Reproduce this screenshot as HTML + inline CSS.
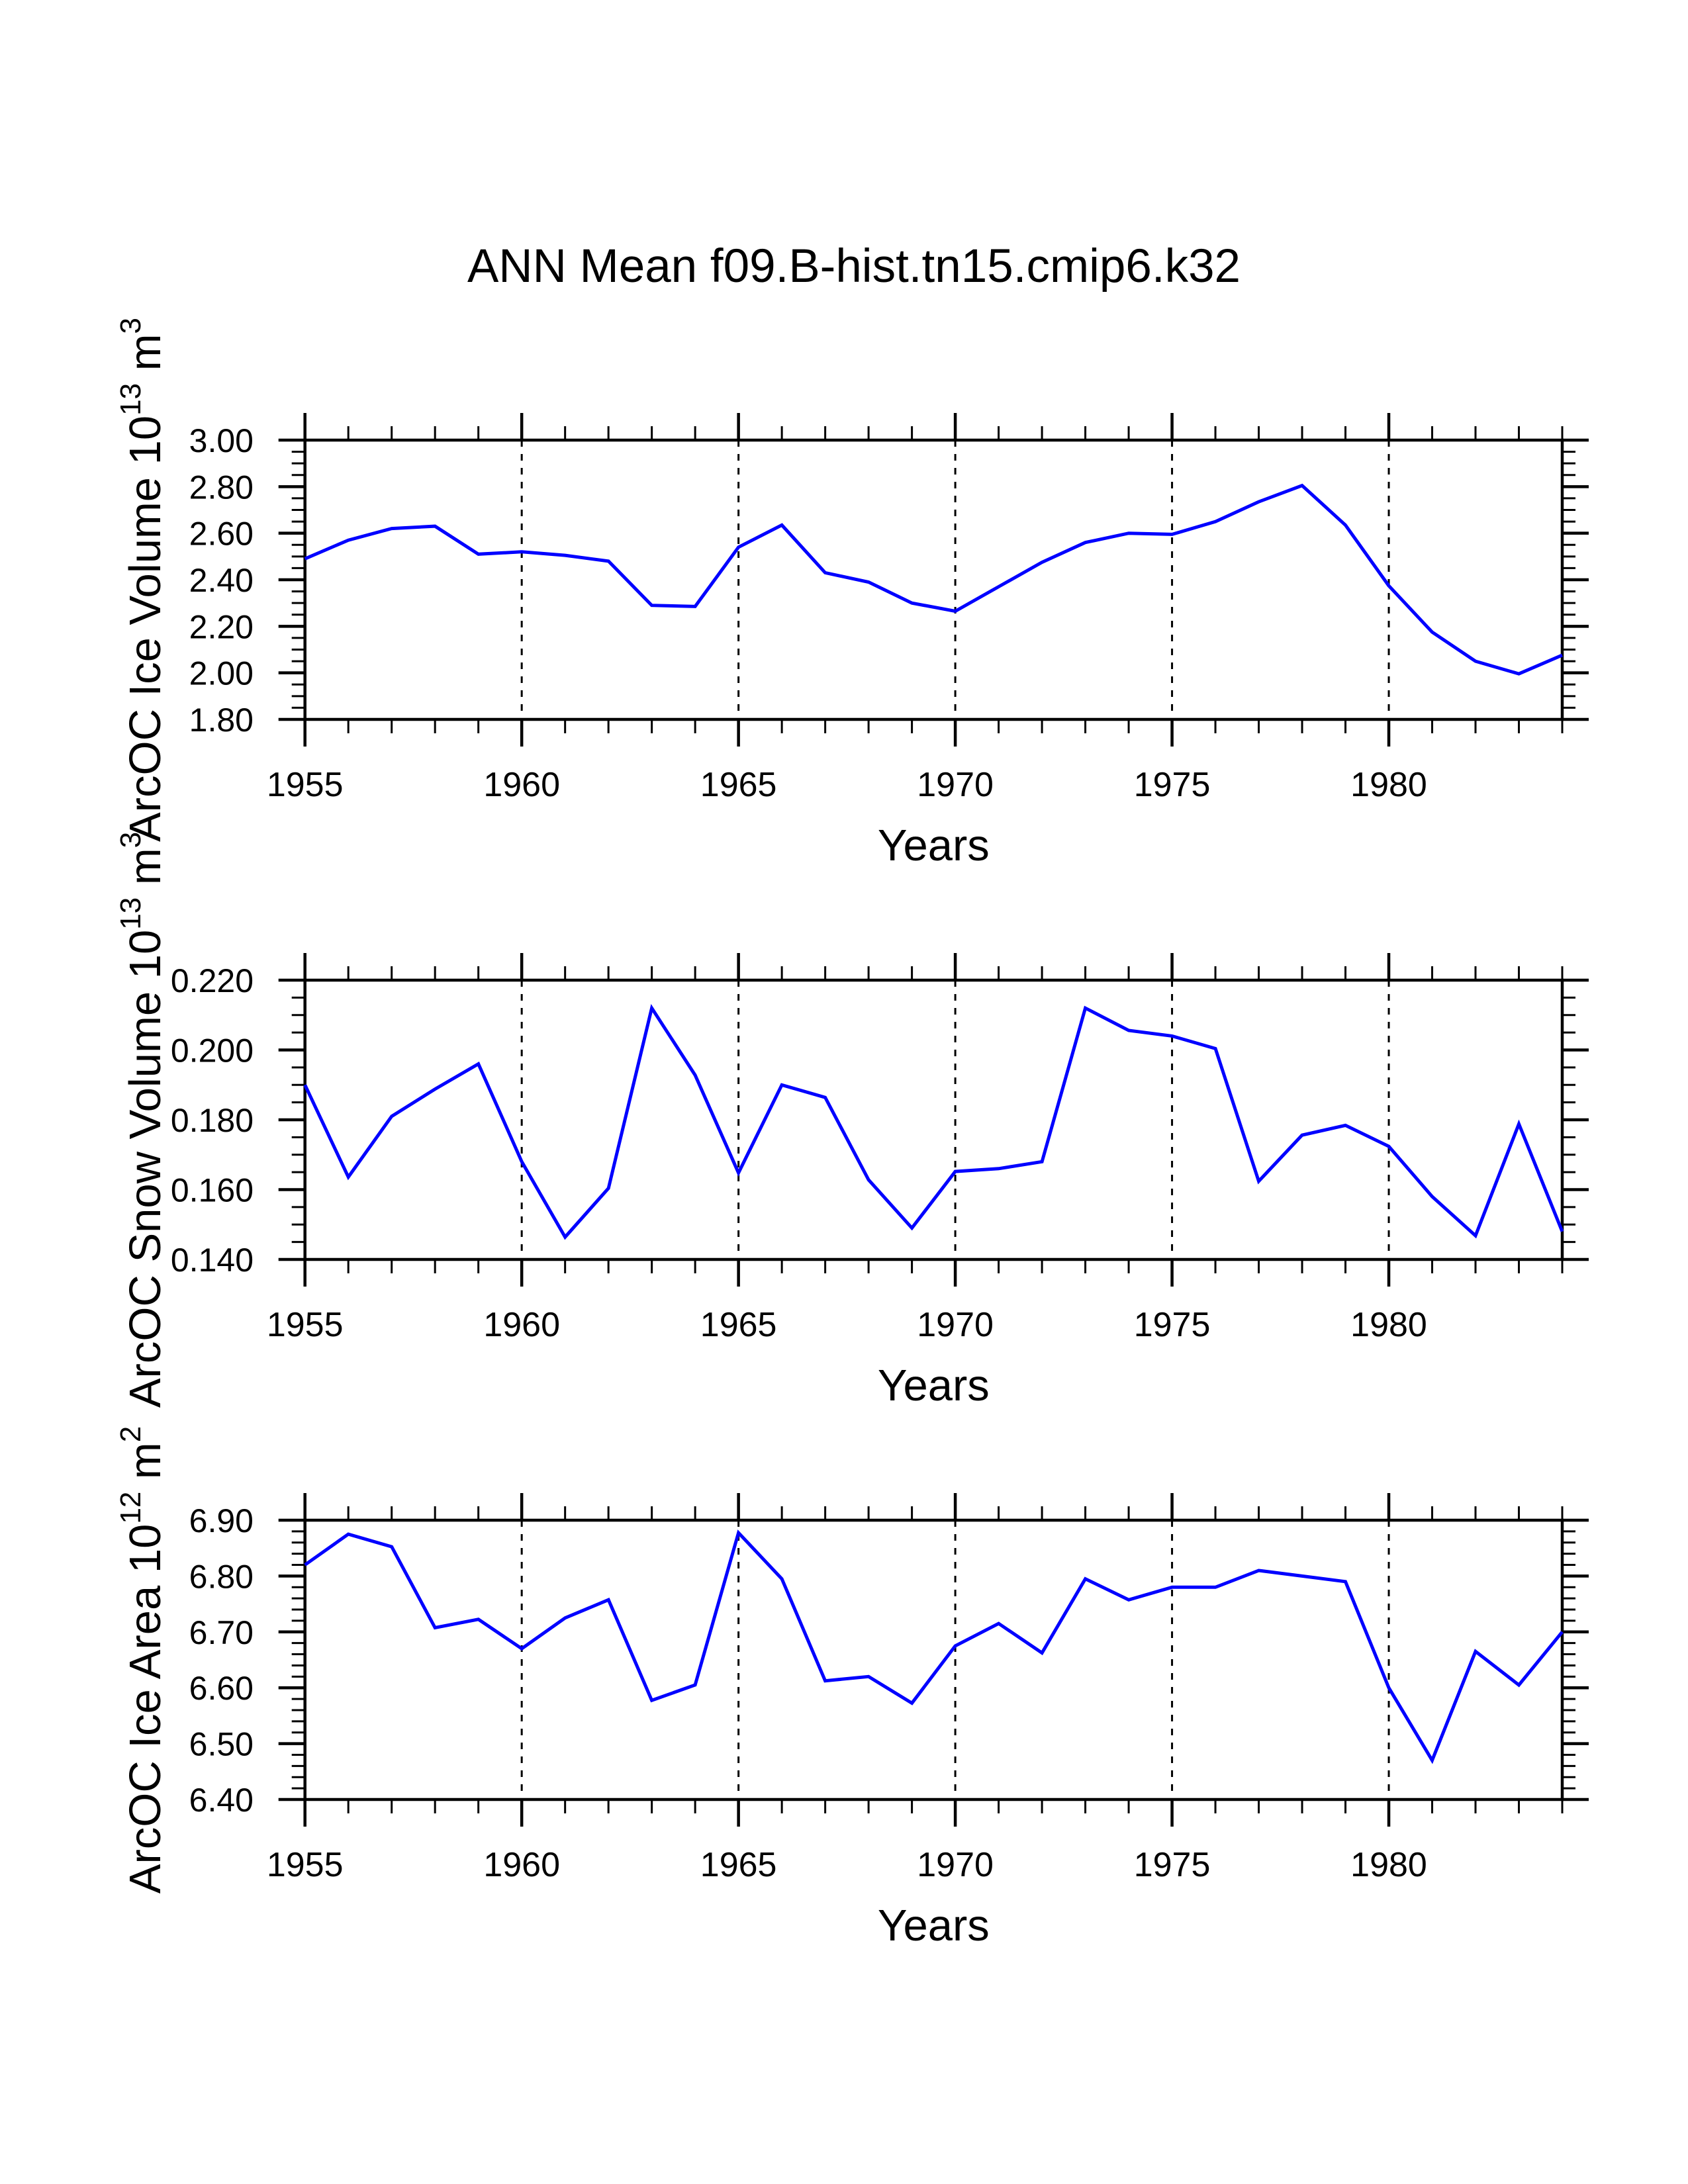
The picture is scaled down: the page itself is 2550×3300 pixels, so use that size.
<!DOCTYPE html>
<html><head><meta charset="utf-8"><style>
html,body{margin:0;padding:0;background:#fff;}
svg{display:block;}
text{font-family:"Liberation Sans",Arial,sans-serif;fill:#000;}
</style></head>
<body>
<svg id="chart" xmlns="http://www.w3.org/2000/svg" width="2550" height="3300" viewBox="0 0 2550 3300">
<rect width="2550" height="3300" fill="#fff"/>
<text x="1290" y="426" font-size="71" text-anchor="middle">ANN Mean f09.B-hist.tn15.cmip6.k32</text>
<g id="panels"></g>
</svg>
<script>
const years = [];
for (let y = 1955; y <= 1984; y++) years.push(y);
const xTickYears = [1955, 1960, 1965, 1970, 1975, 1980];

const iceVolume = [2.49,2.57,2.62,2.63,2.51,2.52,2.505,2.48,2.29,2.285,2.54,2.635,2.43,2.39,2.30,2.265,2.37,2.475,2.56,2.60,2.595,2.65,2.735,2.805,2.635,2.374,2.175,2.05,1.996,2.076];
const iceVolumeTicks = ["1.80","2.00","2.20","2.40","2.60","2.80","3.00"];

const snowVolume = [0.190,0.1636,0.181,0.1888,0.196,0.168,0.1464,0.1604,0.212,0.1928,0.1648,0.190,0.1864,0.1628,0.149,0.1652,0.166,0.168,0.212,0.2056,0.204,0.2004,0.1624,0.1756,0.1784,0.1724,0.158,0.1468,0.1788,0.148];
const snowVolumeTicks = ["0.140","0.160","0.180","0.200","0.220"];

const iceArea = [6.82,6.875,6.8525,6.7075,6.7225,6.67,6.725,6.7575,6.5775,6.605,6.8775,6.795,6.6125,6.62,6.5725,6.675,6.715,6.6625,6.795,6.7575,6.78,6.78,6.81,6.80,6.79,6.60,6.47,6.665,6.605,6.70];
const iceAreaTicks = ["6.40","6.50","6.60","6.70","6.80","6.90"];

const NS = "http://www.w3.org/2000/svg";
const X0 = 460.7, X1 = 2360;
const xScale = yr => X0 + (yr - 1955) / (1984 - 1955) * (X1 - X0);

function mk(tag, attrs, parent) {
  const e = document.createElementNS(NS, tag);
  for (const k in attrs) e.setAttribute(k, attrs[k]);
  parent.appendChild(e);
  return e;
}

const panels = [
  {top: 665, bottom: 1087, data: iceVolume, ticks: iceVolumeTicks, minorDiv: 4, name: "ice-volume",
   label: ["ArcOC Ice Volume 10", "13", " m", "3"]},
  {top: 1481, bottom: 1903, data: snowVolume, ticks: snowVolumeTicks, minorDiv: 4, name: "snow-volume",
   label: ["ArcOC Snow Volume 10", "13", " m", "3"]},
  {top: 2297, bottom: 2719, data: iceArea, ticks: iceAreaTicks, minorDiv: 5, name: "ice-area",
   label: ["ArcOC Ice Area 10", "12", " m", "2"]}
];

const root = document.getElementById("panels");
panels.forEach(p => {
  const g = mk("g", {}, root);
  
  
  const vmin = parseFloat(p.ticks[0]), vmax = parseFloat(p.ticks[p.ticks.length - 1]);
  const yScale = v => p.bottom - (v - vmin) / (vmax - vmin) * (p.bottom - p.top);

  xTickYears.slice(1).forEach(yr => {
    const l = mk("line", {x1: xScale(yr), x2: xScale(yr), y1: p.top, y2: p.bottom, stroke: "#000", "stroke-width": 3, "stroke-dasharray": "10 11"}, g);
    
    
  });

  years.forEach(yr => {
    const major = xTickYears.includes(yr);
    const len = major ? 41 : 21, w = major ? 4.5 : 3;
    const x = xScale(yr);
    const t1 = mk("line", {x1: x, x2: x, y1: p.top, y2: p.top - len, stroke: "#000", "stroke-width": w}, g);
    
    
    const t2 = mk("line", {x1: x, x2: x, y1: p.bottom, y2: p.bottom + len, stroke: "#000", "stroke-width": w}, g);
    
    
    if (major) {
      const t = mk("text", {x: x, y: p.bottom + 116, "font-size": 52, "text-anchor": "middle"}, g);
      t.textContent = yr;
      
      
    }
  });

  const nMaj = p.ticks.length - 1;
  const step = (vmax - vmin) / nMaj;
  for (let i = 0; i <= nMaj * p.minorDiv; i++) {
    const v = vmin + i * step / p.minorDiv;
    const y = yScale(v);
    const major = i % p.minorDiv === 0;
    const len = major ? 40 : 20, w = major ? 4.5 : 3;
    const a = mk("line", {x1: X0, x2: X0 - len, y1: y, y2: y, stroke: "#000", "stroke-width": w}, g);
    
    
    const b = mk("line", {x1: X1, x2: X1 + len, y1: y, y2: y, stroke: "#000", "stroke-width": w}, g);
    
    
    if (major) {
      const t = mk("text", {x: 383, y: y + 18, "font-size": 50, "text-anchor": "end"}, g);
      t.textContent = p.ticks[i / p.minorDiv];
      
      
    }
  }

  const fr = mk("rect", {x: X0, y: p.top, width: X1 - X0, height: p.bottom - p.top, fill: "none", stroke: "#000", "stroke-width": 4.5}, g);
  
  

  const pts = p.data.map((v, i) => xScale(years[i]).toFixed(1) + "," + yScale(v).toFixed(1)).join(" ");
  const pl = mk("polyline", {points: pts, fill: "none", stroke: "#0000ff", "stroke-width": 5, "stroke-linejoin": "miter"}, g);
  
  

  const xt = mk("text", {x: (X0 + X1) / 2, y: p.bottom + 213, "font-size": 67, "text-anchor": "middle"}, g);
  xt.textContent = "Years";
  
  

  const cy = (p.top + p.bottom) / 2;
  const yt = mk("text", {x: 0, y: 0, "font-size": 67, "text-anchor": "middle", transform: "translate(242," + cy + ") rotate(-90)"}, g);
  
  
  const s1 = mk("tspan", {}, yt); s1.textContent = p.label[0];
  const s2 = mk("tspan", {"font-size": 44, dy: -30}, yt); s2.textContent = p.label[1];
  const s3 = mk("tspan", {dy: 30}, yt); s3.textContent = p.label[2];
  const s4 = mk("tspan", {"font-size": 44, dy: -30}, yt); s4.textContent = p.label[3];
});
</script>
</body></html>
